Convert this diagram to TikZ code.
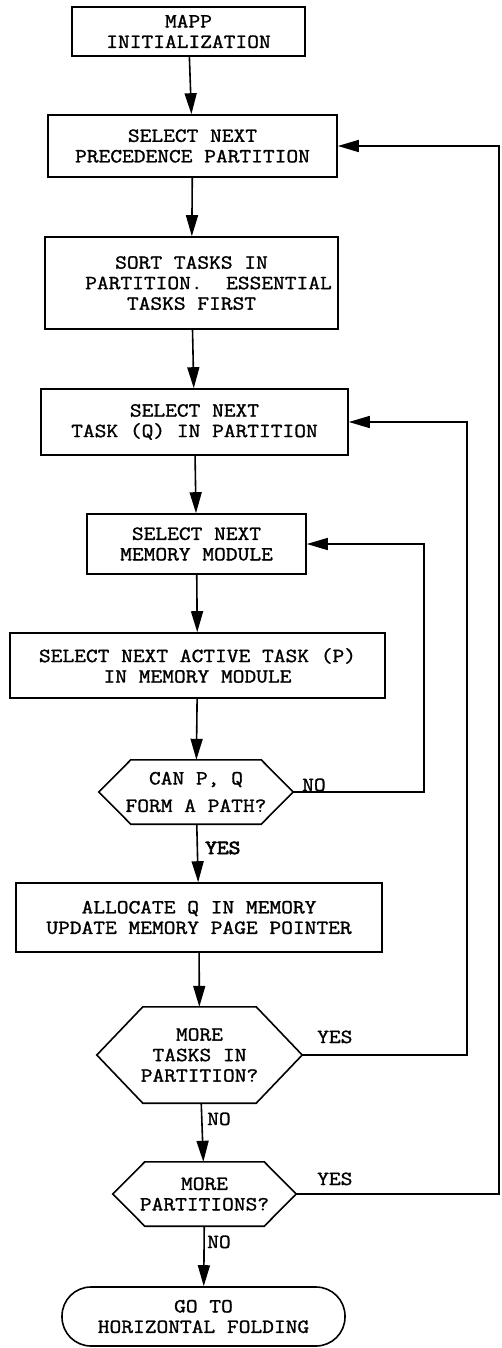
\documentclass[tikz,border=0pt]{standalone}
\usepackage{fontspec}
\setmonofont[FakeStretch=1.14, FakeBold=1.4]{Latin Modern Mono}
\newfontfamily\heavytt[FakeStretch=1.14, FakeBold=3.5]{Latin Modern Mono}
\usetikzlibrary{arrows.meta,calc}
% hexagonal decision outline around a (borderless) node: #1 name, #2 slant
\newcommand\drawhex[2]{%
  \draw[link] (#1.west) -- ([xshift=#2]#1.north west) -- ([xshift=-#2]#1.north east)
    -- (#1.east) -- ([xshift=-#2]#1.south east) -- ([xshift=#2]#1.south west) -- cycle;}
\begin{document}
\begin{tikzpicture}[x=1pt,y=-1pt,
  every node/.style={font=\ttfamily\fontsize{20}{20.5}\selectfont, inner sep=0pt},
  box/.style={draw, line width=1.6pt, align=center},
  decision/.style={align=center},
  terminal/.style={draw, line width=1.6pt, align=center, rounded corners=29pt},
  link/.style={line width=1.6pt},
  flow/.style={line width=1.6pt, -{Triangle[length=21pt,width=12pt]}},
  lbl/.style={anchor=base west}]
\useasboundingbox (0,0) rectangle (502,1348);

% process steps
\node[box, minimum width=233pt, minimum height=49pt] (init) at (188.5,31.5) {MAPP\\INITIALIZATION};
\node[box, minimum width=289pt, minimum height=62pt] (part) at (192.5,146) {SELECT NEXT\\PRECEDENCE PARTITION};
\node[box, minimum width=293pt, minimum height=92pt] (sort) at (191.5,283)
  {SORT TASKS IN\\\hspace*{34pt}PARTITION.~~ESSENTIAL\\TASKS FIRST};
\node[box, minimum width=307pt, minimum height=66pt] (task) at (194.5,422) {SELECT NEXT\\TASK (Q) IN PARTITION};
\node[box, minimum width=219pt, minimum height=60pt] (mem) at (196.5,544) {SELECT NEXT\\MEMORY MODULE};
\node[box, minimum width=375pt, minimum height=65pt] (act) at (197.5,665.5) {SELECT NEXT ACTIVE TASK (P)\\IN MEMORY MODULE};

% decisions
\node[decision, minimum width=194pt, minimum height=64pt] (path) at (196,792) {CAN P, Q\\[7pt]FORM A PATH?};
\drawhex{path}{32pt}
\node[box, minimum width=366pt, minimum height=69pt] (alloc) at (199,917.5) {ALLOCATE Q IN MEMORY\\UPDATE MEMORY PAGE POINTER};
\node[decision, minimum width=205pt, minimum height=96pt] (more) at (199.5,1055) {MORE\\TASKS IN\\PARTITION?};
\drawhex{more}{46pt}
\node[decision, minimum width=183pt, minimum height=64pt] (parts) at (204.5,1194) {MORE\\PARTITIONS?};
\drawhex{parts}{32pt}
\node[terminal, minimum width=283pt, minimum height=59pt] (done) at (203.5,1316.5) {GO TO\\HORIZONTAL FOLDING};

% main flow
\draw[flow] (init) -- (part);
\draw[flow] (part) -- (sort);
\draw[flow] (sort) -- (task);
\draw[flow] (task) -- (mem);
\draw[flow] (mem) -- (act);
\draw[flow] (act) -- (path);
\draw[flow] (path) -- (alloc);
\draw[flow] (alloc) -- (more);
\draw[flow] (more) -- (parts);
\draw[flow] (parts) -- (done);

% loops back
\coordinate (r1) at ([xshift=131pt]path.east);
\coordinate (r2) at ([xshift=165pt]more.east);
\coordinate (r3) at ([xshift=203pt]parts.east);
\draw[flow] (path.east) -- (r1) |- (mem.east);
\draw[flow] (more.east) -- (r2) |- (task.east);
\draw[flow] (parts.east) -- (r3) |- (part.east);

% branch labels
\node[lbl] (noA) at (302,791) {NO};
\node[lbl, font=\heavytt\fontsize{20}{20.5}\selectfont] (yesA) at (205,854) {YES};
\node[lbl] (yesB) at (317,1043) {YES};
\node[lbl] (noB) at (207,1125) {NO};
\node[lbl] (yesC) at (317,1185) {YES};
\node[lbl] (noC) at (207,1248) {NO};
\end{tikzpicture}
\end{document}
